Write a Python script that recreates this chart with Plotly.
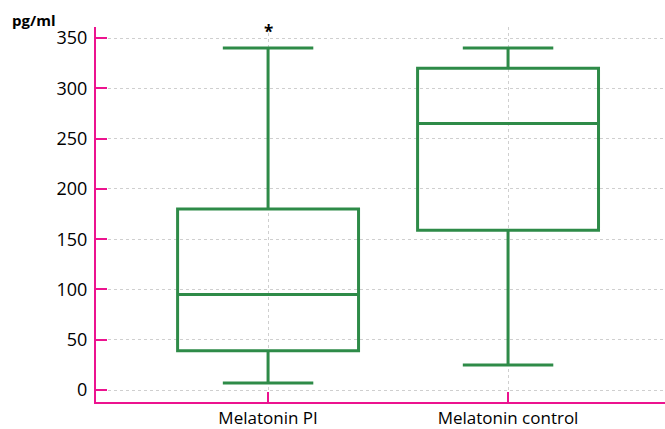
import plotly.graph_objects as go

# Summary statistics for each group (pg/ml)
groups = ["Melatonin PI", "Melatonin control"]
lower_whisker = [7, 25]
q1_values = [39, 159]
medians = [95, 265]
q3_values = [180, 320]
upper_whisker = [340, 340]
y_ticks = [0, 50, 100, 150, 200, 250, 300, 350]

GREEN = "#2E8B48"
MAGENTA = "#EC138F"

fig = go.Figure()
fig.add_trace(go.Box(
    x=groups,
    q1=q1_values,
    median=medians,
    q3=q3_values,
    lowerfence=lower_whisker,
    upperfence=upper_whisker,
    boxpoints=False,
    fillcolor="rgba(255,255,255,0)",
    line=dict(color=GREEN, width=3),
    whiskerwidth=0.5,
    width=0.754,
    showlegend=False,
    hoverinfo="skip",
))

# Significance marker above the first group
fig.add_annotation(
    x=groups[0], y=upper_whisker[0] + 17, text="<b>*</b>",
    showarrow=False, font=dict(size=17, color="black"),
)

# Unit label above the y axis
fig.add_annotation(
    xref="paper", yref="paper", x=-0.152, y=1.019, xanchor="left", yanchor="middle",
    text="<b>pg/ml</b>", showarrow=False, font=dict(size=15, color="black"),
)

fig.update_layout(
    width=665, height=429,
    margin=dict(l=96, r=0, t=27, b=27),
    plot_bgcolor="white", paper_bgcolor="white",
    font=dict(family="Open Sans, Liberation Sans, sans-serif", color="black"),
    xaxis=dict(
        type="category",
        range=[-0.717, 1.654],
        showline=True, linecolor=MAGENTA, linewidth=2,
        ticks="inside", ticklen=10, tickwidth=2, tickcolor=MAGENTA,
        showgrid=True, gridcolor="#cfcfcf", gridwidth=1, griddash="dot",
        tickfont=dict(size=17),
        zeroline=False,
    ),
    yaxis=dict(
        range=[-11.9, 361],
        tickvals=y_ticks,
        showline=True, linecolor=MAGENTA, linewidth=2,
        ticks="inside", ticklen=11, tickwidth=2, tickcolor=MAGENTA,
        showgrid=True, gridcolor="#cfcfcf", gridwidth=1, griddash="dot",
        tickfont=dict(size=18),
        ticklabelstandoff=3,
        zeroline=False,
    ),
)

fig.write_html("out.html")
